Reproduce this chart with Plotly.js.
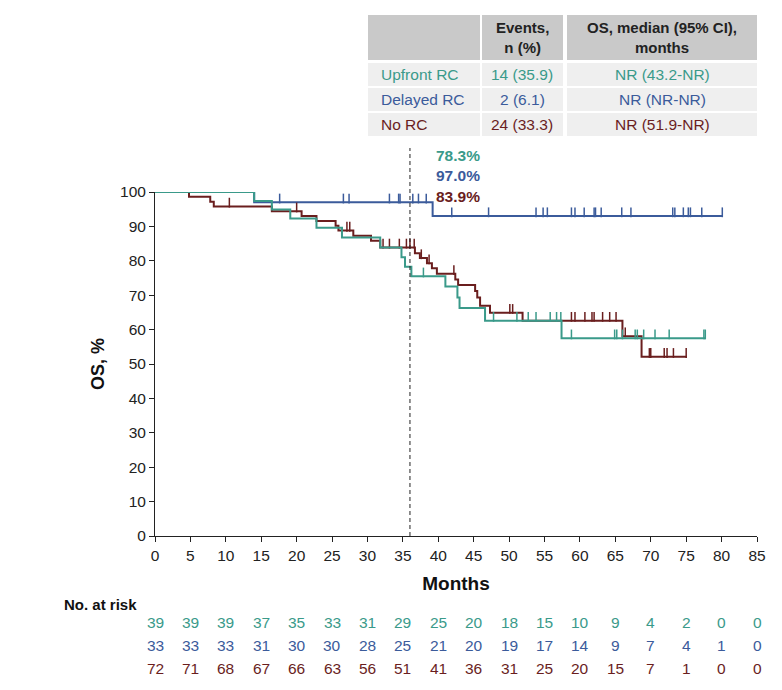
<!DOCTYPE html>
<html><head><meta charset="utf-8">
<script src="https://cdn.plot.ly/plotly-3.0.1.min.js"></script>
<style>body{margin:0;background:#fff}</style>
</head><body><div id="chart" style="width:782px;height:690px"></div>
<script>
const groups = ['Upfront RC', 'Delayed RC', 'No RC'];
const colors = ['#3a9a8a', '#3b5b9b', '#6a1e1e'];

const upfrontTimes = [0, 14.0, 16.5, 19.1, 22.8, 26.4, 31.8, 34.8, 35.3, 36.2, 41.0, 42.7, 43.0, 46.6, 57.4, 77.7];
const upfrontSurv  = [100, 97.4, 94.9, 92.3, 89.6, 86.8, 83.9, 81.0, 78.3, 75.5, 72.5, 69.3, 66.3, 62.6, 57.5, 57.5];
const upfrontCensor = [12.4, 37.9, 47.8, 51.1, 52.7, 53.8, 55.8, 56.7, 57.3, 58.8, 64.9, 65.2, 66.0, 67.8, 68.1, 69.0, 70.6, 72.6, 77.5, 77.7];

const delayedTimes = [0, 14.0, 39.2, 80.1];
const delayedSurv  = [100, 97.0, 93.0, 93.0];
const delayedCensor = [17.6, 26.6, 27.4, 33.1, 34.4, 34.6, 36.4, 37.2, 38.3, 41.9, 47.1, 53.8, 54.8, 55.4, 58.8, 59.3, 60.6, 62.0, 62.2, 63.0, 65.9, 67.2, 73.1, 73.4, 74.6, 75.3, 75.6, 77.2, 80.1];

const noRcTimes = [0, 4.8, 7.8, 8.3, 16.5, 20.7, 22.8, 25.5, 25.9, 28.0, 30.5, 31.8, 36.7, 37.4, 38.4, 39.1, 39.8, 42.4, 42.8, 45.2, 45.5, 45.9, 47.3, 51.9, 66.0, 68.7, 75.1];
const noRcSurv  = [100, 98.6, 97.2, 95.8, 94.4, 93.0, 91.6, 90.2, 88.8, 87.3, 85.8, 83.9, 82.2, 80.8, 79.3, 77.8, 76.2, 74.6, 73.0, 71.2, 69.3, 66.9, 64.9, 62.6, 58.1, 52.1, 52.1];
const noRcCensor = [4.6, 10.5, 20.0, 27.1, 27.5, 32.2, 33.1, 34.5, 35.5, 36.0, 36.6, 37.6, 38.7, 42.2, 50.1, 50.5, 58.8, 59.3, 60.7, 61.7, 62.0, 63.2, 64.2, 65.1, 66.4, 69.8, 70.0, 71.9, 72.3, 73.2, 75.0];

const landmarkMonth = 36;
const landmarkLabels = ['78.3%', '97.0%', '83.9%'];

const tableEvents = ['14 (35.9)', '2 (6.1)', '24 (33.3)'];
const tableMedian = ['NR (43.2-NR)', 'NR (NR-NR)', 'NR (51.9-NR)'];

const riskTimes = [0,5,10,15,20,25,30,35,40,45,50,55,60,65,70,75,80,85];
const riskUpfront = [39,39,39,37,35,33,31,29,25,20,18,15,10,9,4,2,0,0];
const riskDelayed = [33,33,33,31,30,30,28,25,21,20,19,17,14,9,7,4,1,0];
const riskNoRc    = [72,71,68,67,66,63,56,51,41,36,31,25,20,15,7,1,0,0];

const FONT = 'Liberation Sans, Arial, sans-serif';
const series = [
  {t: upfrontTimes, s: upfrontSurv, c: upfrontCensor},
  {t: delayedTimes, s: delayedSurv, c: delayedCensor},
  {t: noRcTimes, s: noRcSurv, c: noRcCensor}
];
function stepAt(times, surv, x) {
  let v = surv[0];
  for (let i = 0; i < times.length; i++) { if (times[i] <= x) v = surv[i]; }
  return v;
}
const drawOrder = [1, 2, 0];
const traces = [];
drawOrder.forEach(i => {
  const d = series[i];
  traces.push({x: d.t, y: d.s, type: 'scatter', mode: 'lines', line: {shape: 'hv', color: colors[i], width: 2}, cliponaxis: false, name: groups[i], hoverinfo: 'skip'});
  traces.push({x: d.c, y: d.c.map(x => stepAt(d.t, d.s, x) + 1.1), type: 'scatter', mode: 'markers',
    marker: {symbol: 'line-ns-open', size: 7, color: colors[i], line: {color: colors[i], width: 1.5}}, cliponaxis: false, hoverinfo: 'skip'});
});

const px2x = p => (p - 155) / 602;
const px2y = p => (536 - p) / 344;
const shapes = [
  {type: 'line', xref: 'x', yref: 'paper', x0: landmarkMonth, x1: landmarkMonth, y0: 0, y1: px2y(148), line: {color: '#222', width: 1, dash: '4px,3px'}}
];
const annotations = [];
// table
const cols = [[368, 480], [482, 563], [567, 757]];
const hdr = [15, 60];
const rows = [[63, 86], [88, 111], [113, 136]];
cols.forEach(c => shapes.push({type: 'rect', xref: 'paper', yref: 'paper', x0: px2x(c[0]), x1: px2x(c[1]), y0: px2y(hdr[1]), y1: px2y(hdr[0]), fillcolor: '#c9c9c9', line: {width: 0}, layer: 'below'}));
rows.forEach(r => cols.forEach(c => shapes.push({type: 'rect', xref: 'paper', yref: 'paper', x0: px2x(c[0]), x1: px2x(c[1]), y0: px2y(r[1]), y1: px2y(r[0]), fillcolor: '#efefef', line: {width: 0}, layer: 'below'})));
annotations.push({xref: 'paper', yref: 'paper', x: px2x(522), y: px2y(37.5), text: '<b>Events,<br>n (%)</b>', showarrow: false, font: {family: FONT, size: 15, color: '#222'}, xanchor: 'center', yanchor: 'middle'});
annotations.push({xref: 'paper', yref: 'paper', x: px2x(662), y: px2y(37.5), text: '<b>OS, median (95% CI),<br>months</b>', showarrow: false, font: {family: FONT, size: 15, color: '#222'}, xanchor: 'center', yanchor: 'middle'});
groups.forEach((g, i) => {
  const yc = px2y((rows[i][0] + rows[i][1]) / 2);
  annotations.push({xref: 'paper', yref: 'paper', x: px2x(379), y: yc, text: g, showarrow: false, font: {family: FONT, size: 15.5, color: colors[i]}, xanchor: 'left', yanchor: 'middle'});
  annotations.push({xref: 'paper', yref: 'paper', x: px2x(522), y: yc, text: tableEvents[i], showarrow: false, font: {family: FONT, size: 15.5, color: colors[i]}, xanchor: 'center', yanchor: 'middle'});
  annotations.push({xref: 'paper', yref: 'paper', x: px2x(662), y: yc, text: tableMedian[i], showarrow: false, font: {family: FONT, size: 15.5, color: colors[i]}, xanchor: 'center', yanchor: 'middle'});
});
// landmark labels
const lmY = [155, 176, 196];
landmarkLabels.forEach((l, i) => annotations.push({xref: 'paper', yref: 'paper', x: px2x(434), y: px2y(lmY[i]), text: '<b>' + l + '</b>', showarrow: false, font: {family: FONT, size: 15.5, color: colors[i]}, xanchor: 'left', yanchor: 'middle'}));
// risk table
annotations.push({xref: 'paper', yref: 'paper', x: px2x(62), y: px2y(604), text: '<b>No. at risk</b>', showarrow: false, font: {family: FONT, size: 15, color: '#111'}, xanchor: 'left', yanchor: 'middle'});
const riskRows = [riskUpfront, riskDelayed, riskNoRc];
const riskY = [622, 645, 668];
riskRows.forEach((r, i) => r.forEach((v, j) => annotations.push({xref: 'x', yref: 'paper', x: riskTimes[j], y: px2y(riskY[i]), text: String(v), showarrow: false, font: {family: FONT, size: 15.5, color: colors[i]}, xanchor: 'center', yanchor: 'middle'})));

const layout = {
  width: 782, height: 690,
  margin: {l: 155, r: 25, t: 192, b: 154},
  showlegend: false,
  paper_bgcolor: '#fff', plot_bgcolor: '#fff',
  font: {family: FONT, color: '#222', size: 15},
  xaxis: {range: [0, 85], tickvals: riskTimes, ticks: 'outside', ticklen: 5, tickcolor: '#222', showline: true, linecolor: '#222', linewidth: 1, showgrid: false, zeroline: false,
    tickfont: {family: FONT, size: 15.5, color: '#222'},
    title: {text: '<b>Months</b>', font: {family: FONT, size: 19, color: '#111'}, standoff: 14}},
  yaxis: {range: [0, 100], tickvals: [0,10,20,30,40,50,60,70,80,90,100], ticks: 'outside', ticklen: 5, tickcolor: '#222', showline: true, linecolor: '#222', linewidth: 1, showgrid: false, zeroline: false,
    tickfont: {family: FONT, size: 15.5, color: '#222'},
    title: {text: '<b>OS, %</b>', font: {family: FONT, size: 18, color: '#111'}, standoff: 10}},
  shapes: shapes,
  annotations: annotations
};
Plotly.newPlot('chart', traces, layout, {displayModeBar: false, staticPlot: true});
</script></body></html>
